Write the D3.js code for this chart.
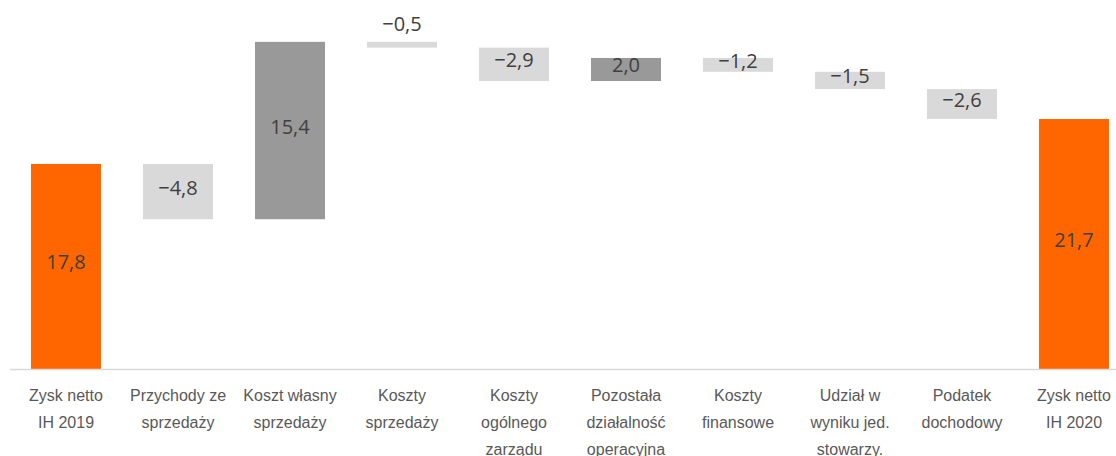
<!DOCTYPE html>
<html>
<head>
<meta charset="utf-8">
<script src="https://cdn.jsdelivr.net/npm/d3@7"></script>
<style>
  body { margin: 0; background: #fff; }
  svg { display: block; font-family: "Open Sans", sans-serif; }
</style>
</head>
<body>
<svg id="chart"></svg>
<script>
// categories (line breaks as in the original axis)
const categories = [
    "Zysk netto\nIH 2019",
    "Przychody ze\nsprzedaży",
    "Koszt własny\nsprzedaży",
    "Koszty\nsprzedaży",
    "Koszty\nogólnego\nzarządu",
    "Pozostała\ndziałalność\noperacyjna",
    "Koszty\nfinansowe",
    "Udział w\nwyniku jed.\nstowarzy.",
    "Podatek\ndochodowy",
    "Zysk netto\nIH 2020"
];
const values = [17.8, -4.8, 15.4, -0.5, -2.9, 2.0, -1.2, -1.5, -2.6, 21.7];
const kinds = ["total", "delta", "delta", "delta", "delta", "delta", "delta", "delta", "delta", "total"];

const width = 1116, height = 456;
const margin = {top: 0, right: 0, bottom: 87, left: 10};

const svg = d3.select("#chart")
    .attr("width", width)
    .attr("height", height);

// running sums for the floating bars
let running = 0;
const bars = categories.map((c, i) => {
    let y0, y1;
    if (kinds[i] === "total") {
        y0 = 0; y1 = values[i]; running = values[i];
    } else {
        y0 = running; y1 = running + values[i]; running = y1;
    }
    return {cat: c, value: values[i], kind: kinds[i], lo: Math.min(y0, y1), hi: Math.max(y0, y1)};
});

const baseY = height - margin.bottom;

const x = d3.scaleBand()
    .domain(categories)
    .range([margin.left, margin.left + 112 * categories.length])
    .paddingInner(0.375)
    .paddingOuter(0.1875);

const y = d3.scaleLinear()
    .domain([0, 30])
    .range([baseY, baseY - 30 * 11.52]);

function fillFor(d) {
    if (d.kind === "total") return "#ff6600";
    return d.value < 0 ? "#d9d9d9" : "#999999";
}

svg.append("g").selectAll("rect")
    .data(bars)
    .join("rect")
    .attr("x", d => x(d.cat))
    .attr("y", d => y(d.hi))
    .attr("width", x.bandwidth())
    .attr("height", d => y(d.lo) - y(d.hi))
    .attr("fill", fillFor);

// axis baseline
svg.append("line")
    .attr("x1", margin.left)
    .attr("x2", width)
    .attr("y1", baseY + 0.5)
    .attr("y2", baseY + 0.5)
    .attr("stroke", "#d9d9d9")
    .attr("stroke-width", 1.5);

// value labels
const fmt = v => d3.format(".1f")(v).replace(".", ",").replace("-", "\u2212");
svg.append("g").selectAll("text")
    .data(bars)
    .join("text")
    .attr("x", d => x(d.cat) + x.bandwidth() / 2)
    .attr("y", d => {
        const h = y(d.lo) - y(d.hi);
        if (h < 12) return y(d.hi) - 18;
        return (y(d.lo) + y(d.hi)) / 2 - 4;
    })
    .attr("dy", "0.35em")
    .attr("text-anchor", "middle")
    .attr("font-size", 20)
    .attr("fill", "#404040")
    .text(d => fmt(d.value));

// category labels
const axis = d3.axisBottom(x).tickSize(0).tickPadding(0);
const ax = svg.append("g")
    .attr("transform", `translate(0, ${baseY})`)
    .call(axis);
ax.select(".domain").remove();
ax.selectAll(".tick text").remove();
ax.selectAll(".tick").each(function(d) {
    const t = d3.select(this).append("text")
        .attr("text-anchor", "middle")
        .attr("font-size", 16)
        .attr("fill", "#595959");
    d.split("\n").forEach((line, i) => {
        t.append("tspan")
            .attr("x", 0)
            .attr("y", 32 + i * 27)
            .text(line);
    });
});
</script>
</body>
</html>
